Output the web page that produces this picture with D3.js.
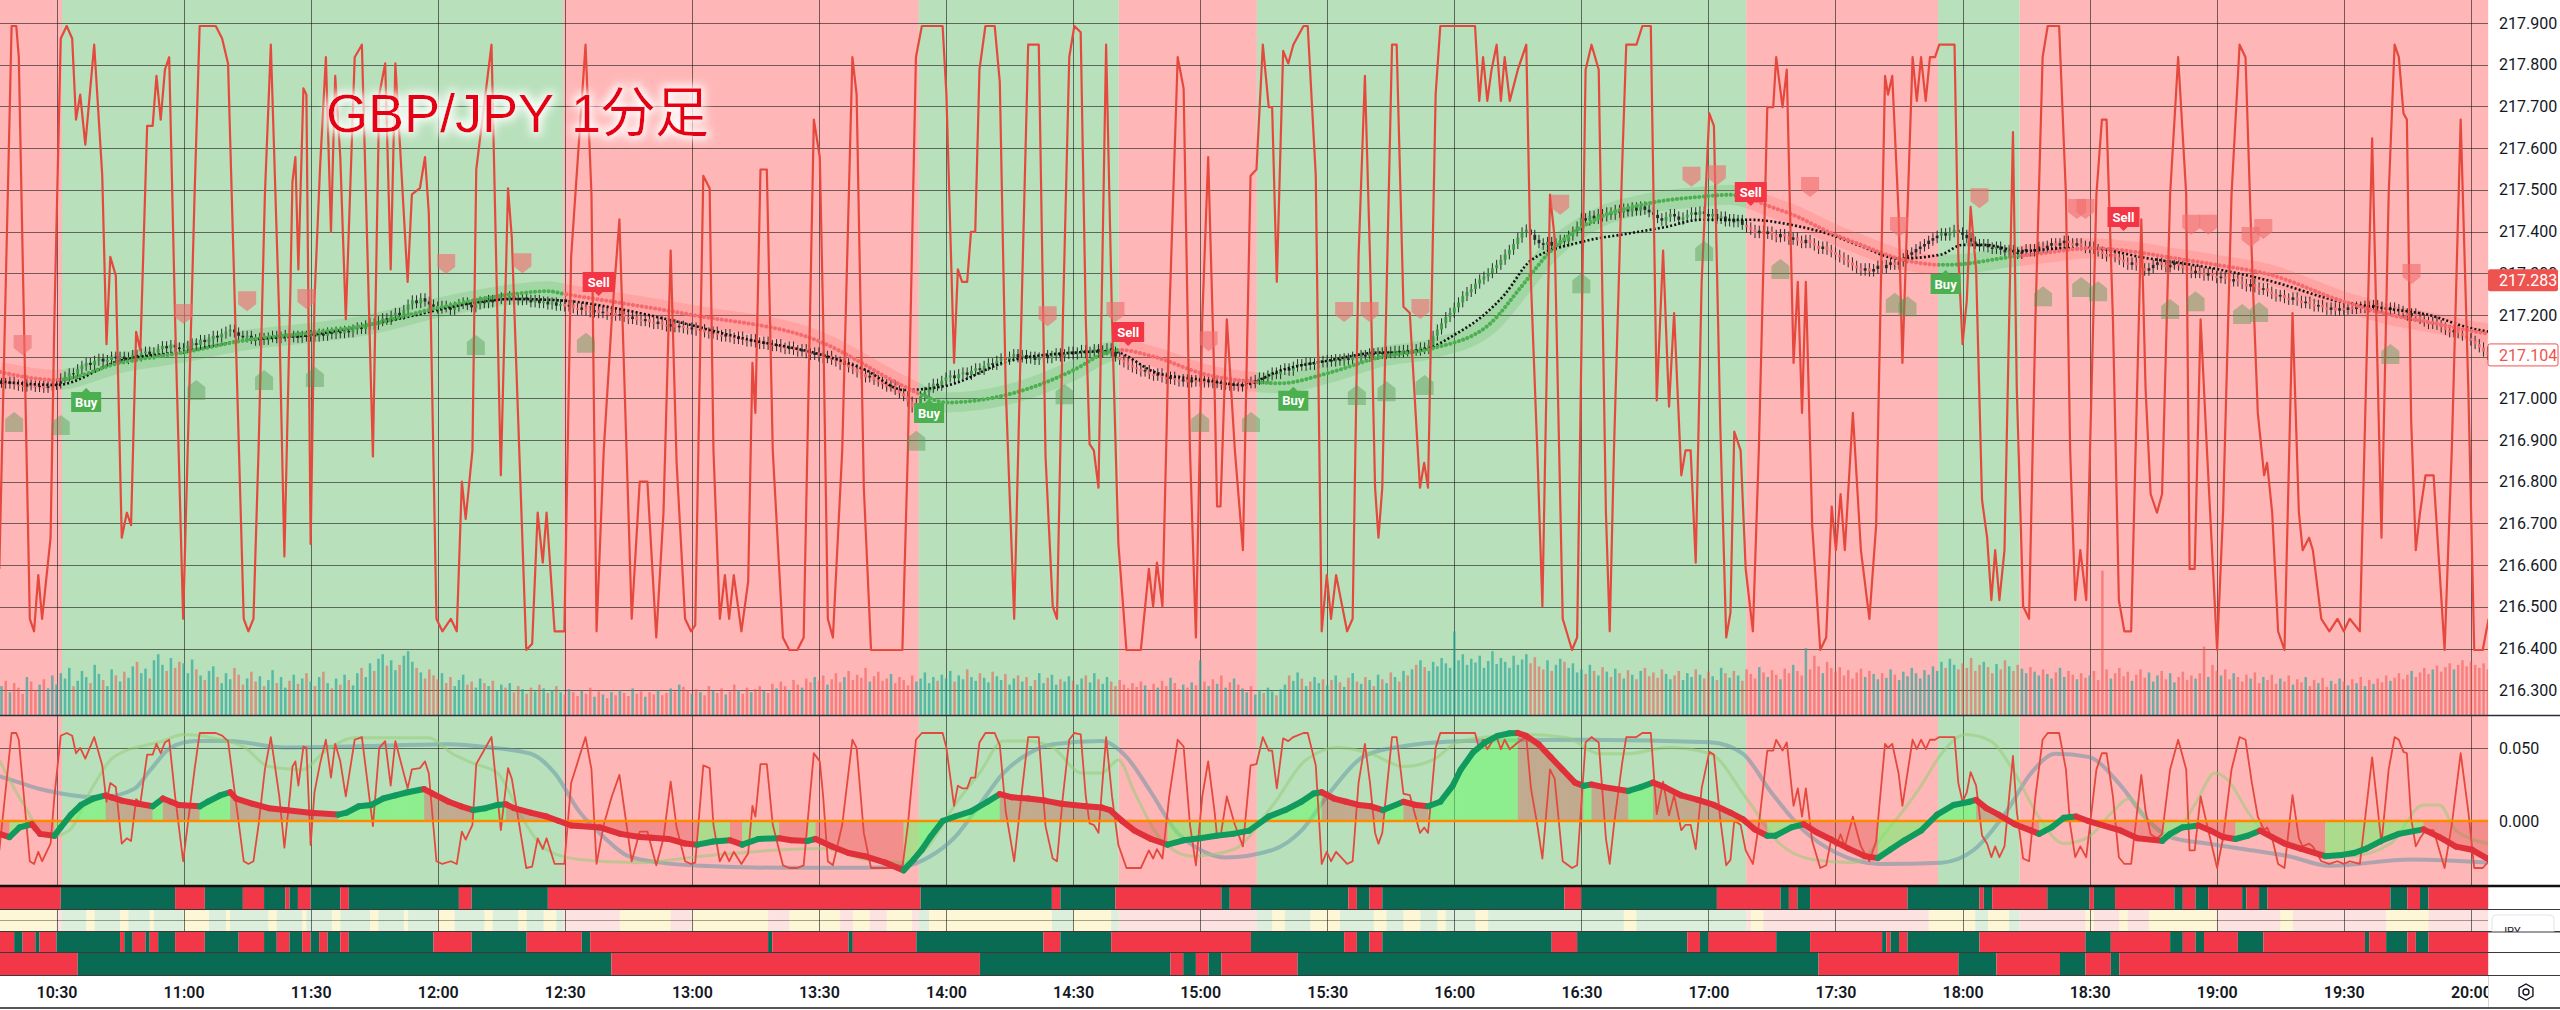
<!DOCTYPE html>
<html>
<head>
<meta charset="utf-8">
<script src="https://cdn.jsdelivr.net/npm/d3@7"></script>
<style>
  html, body { margin: 0; padding: 0; background: #fff; }
  svg { display: block; }
</style>
</head>
<body>
<div id="chart"></div>
<script>
// ---------- data (minutes counted from 10:00) ----------
const firstMinute = 17;
// 1-minute closes, thousandths of a yen above 217.000
const closes = [
  37,35,40,33,30,28,34,31,27,30,25,29,32,
  35,48,52,60,58,70,78,85,80,90,95,88,92,100,96,100,94,98,104,100,108,112,105,110,118,125,120,128,122,118,
  120,126,132,128,140,135,142,150,146,155,160,165,158,150,146,150,142,138,145,140,146,150,144,148,152,146,150,145,150,148,
  152,148,155,150,158,154,160,156,162,158,165,170,166,175,180,176,185,192,188,198,205,200,212,225,235,228,240,232,225,220,
  215,222,218,212,220,226,230,224,218,225,232,228,236,230,238,242,236,245,240,235,242,236,230,236,228,232,225,230,222,226,
  220,224,216,212,218,210,206,212,204,208,200,205,198,202,195,190,196,188,185,190,182,178,184,176,172,178,170,174,168,165,
  170,162,166,158,155,160,152,148,154,146,142,148,140,136,142,134,130,136,128,125,130,122,118,124,116,112,118,108,104,110,
  100,96,102,92,88,80,84,74,70,62,58,50,54,44,40,34,28,32,20,12,5,-8,-22,-12,5,15,25,35,30,42,
  50,55,48,58,62,56,66,72,68,78,84,80,90,96,92,100,106,98,104,95,100,92,98,104,96,102,108,100,106,112,
  105,110,116,108,112,118,110,115,120,112,100,92,86,80,74,70,64,68,58,54,60,50,46,52,44,40,46,38,44,40,
  46,38,42,36,40,32,38,30,34,28,34,40,36,44,50,46,55,62,58,68,72,66,76,82,78,86,80,84,90,86,
  92,88,94,90,96,92,100,96,104,100,108,104,110,106,112,108,114,110,116,112,118,114,122,118,128,150,165,180,195,205,
  218,230,245,255,262,275,285,292,300,312,320,332,345,356,370,385,398,405,392,380,372,368,375,366,372,380,376,390,400,412,
  432,426,438,430,442,436,446,440,452,445,455,448,458,450,460,452,446,440,432,426,435,442,436,428,434,440,446,440,448,442,
  436,442,430,436,424,430,422,428,416,410,404,396,402,394,400,392,386,394,388,380,386,378,372,380,372,366,358,364,356,350,
  344,338,332,326,318,312,306,312,304,310,318,312,320,326,320,328,336,344,350,358,364,370,378,384,390,396,390,398,404,398,
  392,384,376,370,364,370,362,358,364,356,350,356,350,346,352,358,352,358,364,360,366,372,366,372,378,372,366,372,366,360,
  364,358,352,346,340,346,338,332,326,320,326,318,312,306,312,320,326,320,314,320,326,318,312,306,300,306,300,294,300,294,
  288,292,286,280,286,280,274,268,274,266,260,264,256,250,244,248,240,236,242,234,228,232,226,220,224,218,212,218,210,216,
  212,218,214,220,216,222,218,224,220,216,212,218,214,210,204,198,204,196,190,184,178,184,176,170,164,158,164,156,150,144,138,130,122,112,104
];
const volumes = [
  38,45,30,42,36,28,50,44,33,40,47,35,52,
  40,55,48,62,38,45,58,50,42,66,54,46,38,60,52,44,57,49,64,70,55,61,48,72,80,66,58,75,62,70,
  68,55,73,60,52,46,58,64,50,42,55,47,62,53,40,48,57,44,51,38,46,59,42,50,36,45,53,41,48,55,
  44,38,50,57,42,35,48,40,53,46,39,55,62,50,68,58,74,80,65,72,59,66,78,84,70,62,56,48,60,52,
  47,55,42,50,38,46,53,40,44,36,48,42,38,45,33,40,36,42,30,38,34,28,36,31,40,35,29,33,38,30,
  27,34,30,25,32,28,36,24,31,27,22,30,26,33,29,25,35,28,31,24,30,27,33,26,29,35,31,40,37,32,
  28,34,30,26,38,32,29,35,27,31,40,33,28,36,30,34,38,32,29,41,35,44,38,33,46,40,36,48,43,50,
  45,52,40,47,55,43,50,58,46,53,49,62,44,51,57,45,48,54,42,50,46,39,52,44,48,56,42,50,45,53,
  48,58,44,52,47,60,50,45,55,49,43,57,51,46,54,40,48,52,44,50,38,46,55,42,49,53,40,47,44,51,
  45,40,48,52,43,55,47,41,50,44,38,46,40,35,42,37,44,39,33,41,36,45,38,49,42,34,40,36,43,39,
  72,44,38,47,41,52,36,43,48,40,35,30,38,27,33,29,36,31,26,34,40,52,45,56,48,38,44,50,42,47,
  39,46,52,43,37,49,55,44,41,50,46,38,53,47,42,56,50,44,58,52,60,66,72,63,58,70,64,75,68,62,
  110,72,80,66,74,69,78,62,71,84,67,75,70,62,78,66,73,80,68,76,64,60,72,58,66,74,70,62,68,56,
  60,54,66,58,52,63,57,50,61,55,48,59,53,47,58,62,51,56,49,60,54,47,52,58,46,55,50,60,53,48,
  57,51,46,62,55,49,58,52,45,60,54,48,63,56,50,59,53,47,61,55,66,58,52,88,60,78,64,55,70,62,
  57,63,52,59,48,56,61,50,58,54,47,55,49,60,53,46,57,51,62,55,48,59,53,64,58,70,62,74,66,60,
  68,62,75,58,66,70,63,55,67,60,72,64,58,66,61,55,63,57,52,60,54,48,56,62,50,58,53,47,55,49,
  52,58,46,190,60,48,55,62,51,57,45,53,60,49,56,44,52,58,47,55,43,50,57,46,52,48,55,90,50,66,
  58,52,60,47,55,50,44,53,48,56,42,50,46,53,41,48,44,52,40,47,43,50,38,46,42,49,37,45,41,48,
  44,39,47,42,50,38,46,41,48,43,52,45,49,55,47,53,58,50,56,62,54,60,65,57,63,68,60,66,72,64,70,66,62,68,60
];
// moving averages, [minute, thousandths above 217.000]
const fastMA = [[16.7,40],[30,32],[45,90],[60,112],[75,140],[90,152],[103,175],[115,200],[120,212],[138,238],[150,234],[163,214],[180,175],[192,144],[210,106],[221,68],[230,20],[240,30],[255,90],[271,110],[279,113],[290,60],[301,44],[310,32],[319,67],[330,90],[343,110],[347,109],[354,120],[360,152],[367,200],[372,250],[378,330],[390,375],[401,395],[410,411],[418,428],[430,428],[440,415],[449,392],[456,365],[465,335],[475,345],[480,368],[485,368],[494,353],[504,360],[510,360],[523,337],[540,310],[552,283],[570,230],[581,214],[590,200],[600,168],[604.1,160]];
const slowMA = [[16.7,63],[30,44],[45,85],[60,110],[75,140],[90,157],[103,175],[120,217],[138,250],[146,257],[150,250],[163,229],[180,200],[210,137],[230,29],[235,5],[240,-10],[255,10],[270,67],[278,110],[281,116],[289,100],[301,58],[312,40],[319,36],[330,60],[343,100],[355,120],[368,175],[376,270],[382,345],[394,432],[406,468],[418,483],[425,488],[430,478],[434,462],[440,440],[449,396],[456,368],[465,335],[475,320],[480,322],[490,337],[499,348],[510,360],[520,352],[530,336],[540,320],[552,298],[570,232],[581,200],[590,183],[600,162],[604.1,155]];
// stochastic oscillator vertices [minute, 0-100]
const stochPts = [[16.5,13],[19.4,100],[20.5,100],[21.1,95],[22.3,53],[23.7,5],[24.7,3],[25.7,12],[26.6,5],[28.6,18],[29.5,53],[31.0,98],[32.4,100],[33.7,98],[34.6,85],[35.6,89],[36.8,81],[38.9,97],[40.8,76],[41.8,49],[42.7,63],[44.0,60],[45.4,18],[46.6,22],[47.6,20],[48.8,51],[49.8,48],[51.4,84],[52.7,84],[53.6,92],[54.6,85],[55.6,93],[56.6,95],[58.0,53],[59.9,5],[62.6,73],[63.8,100],[67.6,100],[69.1,98],[70.5,94],[72.2,53],[74.2,5],[75.3,3],[76.5,5],[77.7,32],[79.2,73],[80.6,97],[82.6,53],[83.8,15],[85.2,57],[85.7,75],[86.4,79],[87.1,61],[88.3,90],[89.0,89],[90.0,17],[90.9,56],[92.2,77],[93.6,95],[94.8,67],[95.8,92],[97.0,79],[98.3,53],[100.4,95],[102.1,97],[104.7,31],[106.2,89],[107.6,94],[108.9,61],[110.0,94],[112.9,59],[113.9,73],[115.8,74],[117.0,79],[117.9,70],[119.7,5],[121.1,3],[123.1,5],[124.5,3],[125.7,27],[126.6,21],[128.2,32],[129.1,77],[132.7,97],[134.9,28],[136.6,74],[137.5,66],[140.9,0],[142.3,1],[143.6,22],[144.8,14],[145.7,22],[147.6,3],[149.9,3],[151.5,63],[154.9,97],[156.3,73],[157.5,3],[159.2,32],[161.1,53],[162.9,69],[165.8,5],[167.7,27],[169.5,27],[171.6,2],[173.3,22],[175.0,64],[176.4,30],[178.4,5],[179.8,3],[180.8,4],[182.7,76],[184.2,74],[185.1,32],[186.6,5],[187.8,12],[188.8,5],[189.9,12],[191.7,3],[193.3,11],[194.3,46],[195.0,38],[196.2,77],[197.7,77],[199.1,32],[201.5,2],[203.0,0],[204.9,0],[206.4,2],[208.8,85],[210.2,79],[211.0,53],[212.1,5],[213.3,2],[215.5,32],[217.9,95],[218.9,89],[220.6,26],[222.3,0],[229.7,0],[231.0,32],[232.9,95],[234.3,100],[239.2,100],[240.1,89],[241.9,46],[242.8,61],[243.8,59],[245.0,59],[245.9,67],[246.9,67],[247.9,93],[249.3,100],[251.5,100],[252.7,91],[254.1,42],[256.1,5],[258.0,59],[259.4,97],[261.9,97],[263.5,31],[265.2,7],[266.2,5],[267.6,53],[269.1,95],[270.3,100],[271.8,99],[273.0,53],[273.9,33],[274.9,32],[276.0,26],[277.8,97],[279.2,53],[280.7,17],[282.6,0],[286.0,0],[287.9,13],[288.9,7],[289.8,14],[291.1,7],[292.7,53],[294.7,95],[296.1,90],[297.6,32],[299.0,2],[300.5,53],[301.9,79],[303.4,42],[304.0,23],[304.8,23],[306.3,53],[308.2,32],[310.1,16],[311.9,76],[313.3,77],[314.8,97],[316.2,87],[317.0,87],[318.1,59],[319.6,96],[320.8,94],[322.0,97],[324.4,100],[325.4,100],[327.3,76],[328.7,3],[329.9,12],[330.9,5],[332.1,12],[334.7,3],[336.0,5],[337.4,63],[338.9,92],[340.1,63],[341.3,26],[342.1,18],[343.0,26],[344.2,63],[345.3,97],[346.4,97],[348.0,55],[349.5,54],[351.9,26],[352.9,30],[353.8,26],[355.6,89],[356.7,100],[364.9,100],[365.9,88],[366.8,95],[367.8,88],[368.8,93],[370.0,97],[371.0,88],[371.9,95],[373.1,88],[375.0,93],[377.0,97],[378.1,59],[379.6,32],[380.8,7],[382.6,73],[383.7,66],[385.6,5],[387.8,0],[389.0,2],[391.0,93],[392.4,97],[394.1,93],[395.8,22],[396.7,3],[397.7,32],[399.6,77],[400.6,97],[403.0,97],[404.4,100],[406.4,100],[407.8,40],[409.3,64],[410.7,39],[411.9,54],[413.6,28],[414.6,32],[415.8,32],[417.0,14],[418.4,59],[420.2,86],[421.3,84],[422.8,36],[424.2,2],[425.2,6],[426.1,35],[427.6,32],[428.8,13],[430.5,3],[431.9,32],[433.9,87],[435.3,87],[436.0,95],[437.5,87],[438.5,93],[440.1,46],[441.1,59],[442.1,38],[443.0,59],[444.5,20],[446.4,0],[447.8,2],[449.1,23],[450.1,16],[451.2,25],[452.2,16],[454.1,38],[456.0,16],[458.0,5],[459.6,20],[461.7,92],[462.4,89],[463.4,92],[464.9,70],[465.8,46],[468.2,95],[469.2,88],[470.2,95],[471.3,88],[472.3,95],[473.5,95],[474.5,97],[478.1,97],[479.0,63],[480.0,49],[481.0,56],[481.9,71],[483.2,61],[484.6,24],[485.8,18],[486.8,8],[487.7,16],[488.7,8],[489.9,16],[491.9,83],[492.8,42],[494.3,7],[495.7,5],[497.2,53],[498.9,95],[500.1,100],[502.8,100],[504.4,73],[505.4,32],[506.6,8],[507.8,16],[509.2,8],[511.6,73],[512.9,85],[514.0,85],[515.5,53],[516.9,8],[518.2,3],[519.8,3],[522.2,69],[523.2,42],[524.4,25],[525.9,22],[527.1,25],[529.0,73],[530.9,95],[532.8,73],[533.6,13],[534.8,13],[536.2,53],[537.7,32],[540.1,0],[541.5,22],[543.5,73],[545.4,97],[546.8,95],[548.3,63],[549.7,38],[551.2,28],[551.9,30],[553.1,22],[554.5,3],[556.0,0],[557.9,54],[559.4,22],[560.3,16],[561.8,18],[562.7,16],[564.7,5],[566.6,3],[568.5,5],[570.0,3],[571.4,5],[573.8,3],[575.3,44],[576.7,82],[578.9,18],[580.6,73],[582.0,97],[583.0,95],[584.1,86],[584.9,85],[585.9,37],[587.0,16],[588.0,22],[589.3,28],[591.2,28],[593.8,0],[595.5,32],[597.6,85],[599.4,42],[600.8,0],[602.8,0],[604.2,5]];
// lower panel momentum line [minute, value]
const momPts = [[16.5,-0.0088],[18.9,-0.011],[21.3,-0.0044],[24.2,-0.0022],[26.1,-0.0088],[29.5,-0.0101],[31.0,-0.0044],[33.4,0.0044],[35.8,0.011],[38.7,0.0154],[41.6,0.0175],[43.0,0.0162],[45.4,0.014],[49.3,0.0118],[52.7,0.0101],[55.1,0.0154],[57.0,0.0132],[58.9,0.011],[63.8,0.0101],[65.7,0.0132],[68.6,0.0175],[71.0,0.0197],[72.4,0.0154],[76.3,0.0118],[80.1,0.0088],[84.0,0.0075],[89.8,0.0057],[96.5,0.0044],[98.5,0.0057],[101.4,0.0101],[104.3,0.011],[107.1,0.0154],[110.0,0.0175],[112.9,0.0197],[116.8,0.0219],[118.7,0.0189],[122.6,0.0132],[125.5,0.0101],[128.4,0.0075],[131.3,0.0088],[134.1,0.011],[136.1,0.0115],[138.0,0.0088],[141.9,0.0057],[145.7,0.0031],[148.6,0],[151.5,-0.0031],[158.3,-0.0044],[163.1,-0.0088],[167.7,-0.011],[170.6,-0.0115],[174.5,-0.0123],[178.4,-0.0154],[181.3,-0.0162],[185.1,-0.014],[189.0,-0.0132],[191.9,-0.0162],[195.7,-0.0123],[200.6,-0.0118],[203.5,-0.0132],[207.3,-0.0136],[209.2,-0.0123],[213.1,-0.0175],[217.0,-0.0219],[220.8,-0.0241],[225.7,-0.0285],[230.0,-0.0338],[232.4,-0.0263],[234.3,-0.0197],[236.3,-0.011],[239.2,0],[242.1,0.0031],[245.9,0.0066],[249.8,0.0132],[252.7,0.0184],[255.6,0.0162],[259.4,0.0154],[263.3,0.014],[267.2,0.0118],[273.0,0.0101],[276.8,0.0092],[278.7,0.0075],[281.6,0],[284.5,-0.0066],[288.4,-0.0123],[292.3,-0.0162],[296.1,-0.0132],[300.0,-0.0118],[303.8,-0.0101],[307.7,-0.0088],[311.6,-0.0066],[316.2,0.0031],[320.1,0.0075],[323.9,0.0132],[326.8,0.0189],[328.7,0.0197],[331.6,0.0154],[334.5,0.0132],[337.4,0.011],[340.3,0.0101],[343.2,0.0075],[348.0,0.0132],[350.9,0.011],[353.8,0.0101],[356.7,0.0132],[359.6,0.0241],[361.5,0.0351],[364.4,0.0469],[367.3,0.0539],[370.2,0.0583],[373.1,0.0601],[375.0,0.0603],[377.0,0.0583],[379.9,0.0526],[382.7,0.0439],[385.6,0.0351],[388.5,0.0263],[390.5,0.0241],[392.4,0.025],[395.3,0.0232],[401.1,0.0206],[404.0,0.0232],[406.9,0.0263],[409.7,0.0232],[413.6,0.0175],[417.5,0.0145],[421.3,0.011],[425.2,0.0057],[428.1,0.0013],[430.9,-0.0057],[433.9,-0.0101],[435.8,-0.0101],[439.6,-0.0044],[442.5,-0.0022],[445.4,-0.0075],[449.3,-0.0132],[453.1,-0.0189],[457.0,-0.0241],[460.0,-0.0254],[462.9,-0.0197],[466.3,-0.0132],[470.2,-0.0066],[474.0,0.0044],[477.9,0.011],[481.7,0.0132],[483.2,0.0145],[485.6,0.0088],[488.5,0.0044],[492.3,-0.0022],[496.2,-0.0066],[498.1,-0.0088],[501.0,-0.0044],[503.9,0.0022],[506.8,0.0031],[509.7,0],[517.4,-0.0066],[521.3,-0.0118],[527.1,-0.0136],[529.0,-0.0088],[531.9,-0.0044],[535.7,-0.0031],[538.6,-0.0066],[541.5,-0.011],[544.4,-0.0123],[547.3,-0.0101],[550.2,-0.0066],[553.1,-0.011],[556.0,-0.0154],[559.8,-0.0189],[565.6,-0.0241],[569.5,-0.0232],[572.4,-0.0219],[575.3,-0.0189],[579.1,-0.0132],[583.0,-0.0088],[588.8,-0.0057],[592.6,-0.011],[596.5,-0.0175],[600.3,-0.0197],[604.2,-0.0263]];
const slowLine = [[16.5,0.0307],[21.3,0.0263],[26.1,0.0219],[31.0,0.0189],[40.6,0.0162],[48.3,0.0219],[52.2,0.0351],[57.0,0.0504],[62.8,0.0548],[70.5,0.0548],[84.0,0.0504],[103.3,0.0513],[122.6,0.0526],[132.2,0.0504],[141.9,0.0461],[147.6,0.0329],[153.4,0.0066],[159.2,-0.011],[165.0,-0.0241],[172.6,-0.0285],[182.2,-0.0307],[201.5,-0.032],[220.8,-0.032],[230.5,-0.0307],[236.3,-0.0241],[242.1,-0.011],[247.9,0.011],[253.6,0.0329],[259.4,0.0461],[265.2,0.0526],[276.8,0.0548],[282.6,0.0439],[288.4,0.0197],[294.2,-0.0066],[300.0,-0.0197],[305.8,-0.025],[317.2,-0.0197],[323.9,-0.0066],[330.7,0.0197],[338.4,0.0439],[346.1,0.0504],[362.5,0.0548],[391.4,0.0557],[420.4,0.0539],[428.1,0.0461],[434.8,0.0197],[442.5,-0.0066],[450.3,-0.0219],[460.5,-0.0294],[475.0,-0.0285],[482.7,-0.0197],[490.4,0.0066],[496.2,0.0329],[502.0,0.0461],[509.7,0.0439],[517.4,0.0241],[523.2,0.0022],[529.0,-0.011],[537.7,-0.0154],[547.3,-0.0197],[557.0,-0.0241],[566.6,-0.0307],[585.9,-0.0263],[604.2,-0.0285]];
const midLine = [[16.5,0.0417],[22.3,0.011],[28.1,-0.011],[32.9,-0.0066],[38.7,0.0241],[43.5,0.0439],[55.1,0.0548],[59.9,0.0592],[66.6,0.057],[74.4,0.0504],[80.1,0.0373],[87.9,0.0351],[93.6,0.0482],[100.4,0.057],[117.8,0.057],[123.5,0.0461],[128.4,0.0395],[134.1,0.0329],[139.9,0.0022],[145.7,-0.0197],[153.4,-0.0263],[167.7,-0.0285],[182.2,-0.0241],[201.5,-0.0197],[211.2,-0.0189],[220.8,-0.0263],[230.5,-0.0285],[236.3,-0.0154],[242.1,0.011],[247.9,0.0329],[253.6,0.0548],[259.4,0.0548],[265.2,0.0504],[272.0,0.0329],[276.8,0.0329],[280.7,0.0417],[284.5,0.0197],[290.3,-0.011],[298.1,-0.0241],[307.7,-0.0197],[317.2,0.011],[324.9,0.0417],[332.6,0.0504],[340.3,0.0461],[348.0,0.0373],[354.8,0.0417],[361.5,0.0548],[377.0,0.0592],[386.6,0.057],[394.3,0.0461],[401.1,0.0461],[410.7,0.0504],[420.4,0.0461],[429.0,0.0154],[436.8,-0.0154],[444.5,-0.0263],[454.1,-0.0285],[463.4,-0.0022],[470.2,0.0241],[475.0,0.0461],[480.8,0.0592],[486.6,0.0548],[492.3,0.0329],[498.1,0.0022],[503.9,-0.0154],[509.7,-0.011],[515.5,0.0066],[519.3,0.0154],[523.2,0.0022],[529.0,-0.011],[534.8,0.011],[539.6,0.0329],[542.5,0.0285],[547.3,0.0066],[552.1,-0.011],[561.8,-0.0197],[571.4,-0.0241],[581.1,-0.0154],[588.8,0.011],[592.6,0.011],[596.5,-0.0066],[604.2,-0.0154]];
// trend zones
const bandEdges = [16.66, 31.3, 149.6, 233.6, 280.8, 313.4, 428.9, 474.2, 493.5, 604.1];
const bandSide = ["sell","buy","sell","buy","sell","buy","sell","buy","sell"];
// signal strips: minutes at which the state flips (starting red)
const strip1Flips = [31,58,65,74,79,84,85,87,90,97,99,125,128,146,234,265,267,280,305,307,312,335,337,340,343,386,390,422,437,439,441,444,467,484,485,487,500,510,511,516,530,532,535,538,546,547,550,552,581,585,588,590];
const strip3Flips = [20,22,25,26,30,45,46,48,51,52,54,58,65,73,79,82,85,88,90,92,94,97,99,119,128,141,154,156,198,199,217,218,233,263,267,279,312,334,337,340,343,383,389,415,418,420,436,444,461,462,463,465,467,484,509,515,529,532,535,537,545,551,575,576,580,585,587,590];
const strip4Flips = [35,161,248,293,296,299,302,305,323,446,479,488,503,509,515,517];
const creamSpans = [[16.66,30],[37,39],[45,47],[52,53],[60,66],[70,71],[80,82],[88,89],[95,97],[104,106],[112,113],[120,124],[131,133],[139,141],[145,148],[163,175],[180,198],[203,215],[218,222],[226,232],[236,265],[270,279],[317,320],[326,333],[341,344],[348,352],[356,358],[365,368],[400,403],[430,433],[472,483],[486,491],[509,511],[517,519],[524,540],[555,558],[580,590]];
// markers [minute, price]
const sellMarks = [[22,217.128],[60,217.202],[75,217.233],[89,217.238],[122,217.322],[140,217.324],[264,217.197],[280,217.207],[302,217.137],[334,217.207],[340,217.207],[352,217.214],[385,217.464],[416,217.531],[422,217.535],[444,217.507],[465,217.411],[484,217.48],[507,217.454],[509,217.454],[534,217.416],[538,217.416],[548,217.387],[551,217.406],[586,217.298]];
const buyMarks = [[20,216.943],[31,216.936],[63,217.02],[79,217.044],[91,217.051],[129,217.128],[155,217.133],[233,216.898],[268,217.01],[300,216.943],[312,216.943],[337,217.008],[344,217.017],[353,217.032],[390,217.276],[419,217.353],[437,217.31],[464,217.229],[467,217.221],[499,217.245],[508,217.267],[512,217.257],[529,217.214],[535,217.233],[546,217.202],[550,217.207],[581,217.106]];
const signals = [[37,216.991,"Buy"],[158,217.279,"Sell"],[236,216.965,"Buy"],[283,217.159,"Sell"],[322,216.994,"Buy"],[430,217.495,"Sell"],[476,217.274,"Buy"],[518,217.435,"Sell"]];
const priceTicks = [216.3,216.4,216.5,216.6,216.7,216.8,216.9,217.0,217.1,217.2,217.3,217.4,217.5,217.6,217.7,217.8,217.9];
const lowTicks = [0, 0.05];
const priceTags = [217.283, 217.104];

// ---------- layout ----------
const width = 2560, height = 1010;
const plotR = 2488;
const mainBot = 715, lowTop = 716, lowBot = 886;
const stripRows = [[887, 909], [910, 931], [932, 952], [953, 975]];

const base = new Date(2024, 0, 1, 10, 0, 0).getTime();
const tm = m => new Date(base + m * 60000);
const x = d3.scaleTime().domain([tm(16.66), tm(604.05)]).range([0, plotR]);
const X = m => x(tm(m));
const y = d3.scaleLinear().domain([216.3, 217.9]).range([690.2, 23]);
const P = c => 217 + c / 1000;
const oscY = d3.scaleLinear().domain([0, 100]).range([650, 26]);
const volY = d3.scaleLinear().domain([0, 100]).range([mainBot, mainBot - 76]);
const lowY = d3.scaleLinear().domain([-0.0445, 0.0726]).range([lowBot, lowTop - 1]);
const lowOscY = d3.scaleLinear().domain([0, 100]).range([868, 733]);

const bgCol = { buy: "#b8e0bb", sell: "#ffb6b6" };
const stripCol = { buy: "#0a6b55", sell: "#f23848" };
const gridCol = "rgba(25,25,25,0.6)";
const oscCol = "#e5493e";

const bands = bandSide.map((s, i) => ({ s, a: bandEdges[i], b: bandEdges[i + 1] }));
const sideAt = m => { const b = bands.find(d => m < d.b); return b ? b.s : "sell"; };

const svg = d3.select("#chart").append("svg")
    .attr("width", width).attr("height", height)
    .style("font-family", "Roboto, 'Liberation Sans', sans-serif");
const defs = svg.append("defs");

defs.append("clipPath").attr("id", "clipMain").append("rect")
    .attr("x", 0).attr("y", 0).attr("width", plotR).attr("height", mainBot);
defs.append("clipPath").attr("id", "clipLow").append("rect")
    .attr("x", 0).attr("y", lowTop).attr("width", plotR).attr("height", lowBot - lowTop);
defs.append("clipPath").attr("id", "clipAxis").append("rect")
    .attr("x", 0).attr("y", 976).attr("width", plotR).attr("height", 32);
["buy", "sell"].forEach(side => {
    const cp = defs.append("clipPath").attr("id", "clip-" + side);
    bands.filter(b => b.s === side).forEach(b => {
        cp.append("rect").attr("x", X(b.a)).attr("y", 0)
            .attr("width", X(b.b) - X(b.a)).attr("height", mainBot);
    });
});
const glow = defs.append("filter").attr("id", "glow")
    .attr("x", "-10%").attr("y", "-40%").attr("width", "120%").attr("height", "180%");
glow.append("feMorphology").attr("in", "SourceAlpha").attr("operator", "dilate").attr("radius", 3).attr("result", "d");
glow.append("feGaussianBlur").attr("in", "d").attr("stdDeviation", 5).attr("result", "b");
glow.append("feFlood").attr("flood-color", "#ffffff").attr("flood-opacity", 0.95);
glow.append("feComposite").attr("in2", "b").attr("operator", "in").attr("result", "g");
const gm = glow.append("feMerge");
gm.append("feMergeNode").attr("in", "g");
gm.append("feMergeNode").attr("in", "SourceGraphic");

svg.append("rect").attr("width", width).attr("height", height).attr("fill", "#fff");

// zone backgrounds
[[0, mainBot], [lowTop, lowBot]].forEach(([t, b]) => {
    svg.append("g").selectAll("rect").data(bands).enter().append("rect")
        .attr("x", d => X(d.a)).attr("y", t)
        .attr("width", d => X(d.b) - X(d.a)).attr("height", b - t)
        .attr("fill", d => bgCol[d.s]);
});

// strip 2 (pale)
svg.append("g").selectAll("rect").data(bands).enter().append("rect")
    .attr("x", d => X(d.a)).attr("y", stripRows[1][0])
    .attr("width", d => X(d.b) - X(d.a)).attr("height", stripRows[1][1] - stripRows[1][0])
    .attr("fill", d => d.s === "buy" ? "#dcefdd" : "#fde2e2");
svg.append("g").selectAll("rect").data(creamSpans).enter().append("rect")
    .attr("x", d => X(d[0])).attr("y", stripRows[1][0])
    .attr("width", d => X(d[1]) - X(d[0])).attr("height", stripRows[1][1] - stripRows[1][0])
    .attr("fill", "#fdf7d5");

// grid
const timeTicks = x.ticks(d3.timeMinute.every(30));
const grid = svg.append("g").attr("stroke", gridCol).attr("stroke-width", 1);
grid.selectAll(".h").data(priceTicks).enter().append("line")
    .attr("x1", 0).attr("x2", plotR)
    .attr("y1", d => Math.round(y(d)) + 0.5).attr("y2", d => Math.round(y(d)) + 0.5);
grid.selectAll(".hl").data(lowTicks.slice(1)).enter().append("line")
    .attr("x1", 0).attr("x2", plotR)
    .attr("y1", d => Math.round(lowY(d)) + 0.5).attr("y2", d => Math.round(lowY(d)) + 0.5);
grid.selectAll(".v").data(timeTicks).enter().append("line")
    .attr("x1", d => Math.round(x(d)) + 0.5).attr("x2", d => Math.round(x(d)) + 0.5)
    .attr("y1", 0).attr("y2", 975);
grid.append("line").attr("x1", 0).attr("x2", plotR).attr("y1", 920.5).attr("y2", 920.5)
    .attr("stroke", "rgba(0,0,0,0.35)");

// candles + volume
const candles = closes.map((c, i) => ({ m: firstMinute + i, o: i ? closes[i - 1] : c, c }));
const main = svg.append("g").attr("clip-path", "url(#clipMain)");
main.append("g").selectAll("rect").data(candles).enter().append("rect")
    .attr("x", d => X(d.m) - 1.2).attr("width", 2.5)
    .attr("y", (d, i) => volY(volumes[i])).attr("height", (d, i) => mainBot - volY(volumes[i]))
    .attr("fill", d => d.c >= d.o ? "rgba(38,166,154,0.66)" : "rgba(239,83,80,0.55)");

// trend cloud (wide soft band along slow MA)
const maLine = d3.line().x(d => X(d[0])).y(d => y(P(d[1]))).curve(d3.curveMonotoneX);
[["buy", "rgba(76,175,80,0.2)"], ["sell", "rgba(255,90,90,0.2)"]].forEach(([s, c]) => {
    main.append("path").datum(slowMA).attr("d", maLine).attr("fill", "none")
        .attr("stroke", c).attr("stroke-width", 20).attr("clip-path", "url(#clip-" + s + ")");
});

const cg = main.append("g");
cg.selectAll("line").data(candles).enter().append("line")
    .attr("x1", d => X(d.m)).attr("x2", d => X(d.m))
    .attr("y1", d => y(P(Math.max(d.o, d.c))) - 5).attr("y2", d => y(P(Math.min(d.o, d.c))) + 5)
    .attr("stroke", "#2a2a2a").attr("stroke-width", 1);
cg.selectAll("rect").data(candles).enter().append("rect")
    .attr("x", d => X(d.m) - 1.4).attr("width", 2.8)
    .attr("y", d => y(P(Math.max(d.o, d.c))))
    .attr("height", d => Math.max(1.2, Math.abs(y(P(d.o)) - y(P(d.c)))))
    .attr("fill", d => {
        const s = sideAt(d.m), up = d.c >= d.o;
        if (s === "buy") return up ? "#3f9c47" : "#2a2a2a";
        return up ? "#2a2a2a" : "#ee6a6a";
    });

// fast MA (black dots) and slow MA (coloured dots)
main.append("path").datum(fastMA).attr("d", maLine).attr("fill", "none")
    .attr("stroke", "#111").attr("stroke-width", 2.6).attr("stroke-dasharray", "2 2.2");
[["buy", "#4caf50"], ["sell", "#f46a6e"]].forEach(([s, c]) => {
    main.append("path").datum(slowMA).attr("d", maLine).attr("fill", "none")
        .attr("stroke", c).attr("stroke-width", 4).attr("stroke-linecap", "round")
        .attr("stroke-dasharray", "0.1 4.4").attr("clip-path", "url(#clip-" + s + ")");
});

// stochastic on the price pane
main.append("path").datum(stochPts)
    .attr("d", d3.line().x(d => X(d[0])).y(d => oscY(d[1])))
    .attr("fill", "none").attr("stroke", oscCol).attr("stroke-width", 2.2)
    .attr("stroke-linejoin", "round");

// shield markers
main.append("g").selectAll("path").data(sellMarks).enter().append("path")
    .attr("transform", d => `translate(${X(d[0])},${y(d[1])})`)
    .attr("d", "M-9,-10 H9 V3 L0,10 L-9,3 Z")
    .attr("fill", "rgba(240,110,110,0.62)");
main.append("g").selectAll("path").data(buyMarks).enter().append("path")
    .attr("transform", d => `translate(${X(d[0])},${y(d[1])})`)
    .attr("d", "M-9,10 H9 V-3 L0,-10 L-9,-3 Z")
    .attr("fill", "rgba(80,150,80,0.42)");

// Buy / Sell labels
const sig = main.append("g").selectAll("g").data(signals).enter().append("g")
    .attr("transform", d => `translate(${X(d[0])},${y(d[1])})`);
sig.append("path")
    .attr("d", d => d[2] === "Buy"
        ? "M-15,-10 H-4 L0,-14 L4,-10 H15 V10 H-15 Z"
        : "M-16,-10 H16 V10 H4 L0,14 L-4,10 H-16 Z")
    .attr("fill", d => d[2] === "Buy" ? "#4caf50" : "#f23645");
sig.append("text").text(d => d[2])
    .attr("text-anchor", "middle").attr("dy", "0.36em")
    .attr("fill", "#fff").attr("font-size", 13).attr("font-weight", 700);

// ---------- lower pane ----------
const low = svg.append("g").attr("clip-path", "url(#clipLow)");
const lowLine = d3.line().x(d => X(d[0])).y(d => lowY(d[1])).curve(d3.curveMonotoneX);
low.append("path").datum(slowLine).attr("d", lowLine).attr("fill", "none")
    .attr("stroke", "rgba(95,145,165,0.5)").attr("stroke-width", 4);
low.append("path").datum(midLine).attr("d", lowLine).attr("fill", "none")
    .attr("stroke", "rgba(150,205,120,0.55)").attr("stroke-width", 3);

const segs = d3.pairs(momPts);
low.append("g").selectAll("path").data(segs).enter().append("path")
    .attr("d", ([a, b]) => `M${X(a[0])},${lowY(a[1])}L${X(b[0])},${lowY(b[1])}L${X(b[0])},${lowY(0)}L${X(a[0])},${lowY(0)}Z`)
    .attr("fill", ([a, b]) => b[1] >= a[1] ? "rgba(105,250,105,0.55)" : "rgba(215,60,55,0.33)");

low.append("path").datum(stochPts)
    .attr("d", d3.line().x(d => X(d[0])).y(d => lowOscY(d[1])))
    .attr("fill", "none").attr("stroke", oscCol).attr("stroke-width", 1.8)
    .attr("stroke-linejoin", "round");

low.append("line").attr("x1", 0).attr("x2", plotR)
    .attr("y1", lowY(0)).attr("y2", lowY(0))
    .attr("stroke", "#ff8a00").attr("stroke-width", 2.6);

low.append("g").selectAll("line").data(segs).enter().append("line")
    .attr("x1", ([a]) => X(a[0])).attr("y1", ([a]) => lowY(a[1]))
    .attr("x2", ([, b]) => X(b[0])).attr("y2", ([, b]) => lowY(b[1]))
    .attr("stroke", ([a, b]) => b[1] >= a[1] ? "#109a5e" : "#e0303a")
    .attr("stroke-width", 6).attr("stroke-linecap", "round");

// ---------- signal strips ----------
const flipSpans = flips => {
    const e = [16.66, ...flips, 604.1];
    return e.slice(0, -1).map((a, i) => ({ a, b: e[i + 1], s: i % 2 === 0 ? "sell" : "buy" }));
};
[[strip1Flips, stripRows[0]], [strip3Flips, stripRows[2]], [strip4Flips, stripRows[3]]].forEach(([f, r]) => {
    svg.append("g").selectAll("rect").data(flipSpans(f)).enter().append("rect")
        .attr("x", d => X(d.a)).attr("y", r[0])
        .attr("width", d => X(d.b) - X(d.a)).attr("height", r[1] - r[0])
        .attr("fill", d => stripCol[d.s]);
});

// separators
svg.append("line").attr("x1", 0).attr("x2", width).attr("y1", 715.5).attr("y2", 715.5)
    .attr("stroke", "#2a2e39").attr("stroke-width", 1.5);
svg.append("line").attr("x1", 0).attr("x2", width).attr("y1", 886).attr("y2", 886)
    .attr("stroke", "#111").attr("stroke-width", 2.5);
[909.5, 931.5, 952.5, 975.5].forEach(v => {
    svg.append("line").attr("x1", 0).attr("x2", width).attr("y1", v).attr("y2", v)
        .attr("stroke", "#3a3a3a").attr("stroke-width", 1);
});
svg.append("line").attr("x1", 0).attr("x2", width).attr("y1", 1008).attr("y2", 1008)
    .attr("stroke", "#555").attr("stroke-width", 2);
svg.append("line").attr("x1", plotR + 0.5).attr("x2", plotR + 0.5).attr("y1", 976).attr("y2", 1007)
    .attr("stroke", "#d6d6d6");

// ---------- axes ----------
const axisFont = g => g.attr("font-size", 16).attr("font-family", "Roboto, 'Liberation Sans', sans-serif");
svg.append("g").attr("clip-path", "url(#clipAxis)")
    .append("g").attr("transform", "translate(0,992)")
    .call(d3.axisBottom(x).tickValues(timeTicks).tickFormat(d3.timeFormat("%H:%M")).tickSize(0).tickPadding(0))
    .call(axisFont)
    .call(g => g.select(".domain").remove())
    .selectAll("text").attr("dy", "0.36em").attr("fill", "#131722").attr("font-weight", 600);

svg.append("g").attr("transform", `translate(${plotR},0)`)
    .call(d3.axisRight(y).tickValues(priceTicks).tickFormat(d3.format(".3f")).tickSize(0).tickPadding(11))
    .call(axisFont)
    .call(g => g.select(".domain").remove())
    .selectAll("text").attr("fill", "#131722");

svg.append("g").attr("transform", `translate(${plotR},0)`)
    .call(d3.axisRight(lowY).tickValues(lowTicks).tickFormat(d3.format(".3f")).tickSize(0).tickPadding(11))
    .call(axisFont)
    .call(g => g.select(".domain").remove())
    .selectAll("text").attr("fill", "#131722");

// price tags on the scale
const tag = svg.append("g").selectAll("g").data(priceTags).enter().append("g")
    .attr("transform", d => `translate(${plotR},${y(d)})`);
tag.append("rect").attr("x", 0).attr("y", -11).attr("width", 70).attr("height", 22).attr("rx", 2)
    .attr("fill", (d, i) => i === 0 ? "#ef5350" : "#fff")
    .attr("stroke", (d, i) => i === 0 ? "none" : "#ef5350");
tag.append("text").text(d => d3.format(".3f")(d))
    .attr("x", 11).attr("dy", "0.36em").attr("font-size", 16)
    .attr("fill", (d, i) => i === 0 ? "#fff" : "#ef5350");

// small pane label and settings icon
const jpy = svg.append("g").attr("transform", "translate(2492,915)");
jpy.append("rect").attr("width", 62).attr("height", 24).attr("rx", 4)
    .attr("fill", "#fff").attr("stroke", "#e0e3eb");
jpy.append("text").text("JPY").attr("x", 9).attr("y", 20).attr("font-size", 11).attr("fill", "#131722");
svg.append("rect").attr("x", plotR + 1).attr("y", 932).attr("width", 71).attr("height", 20).attr("fill", "#fff");
svg.append("line").attr("x1", plotR).attr("x2", width).attr("y1", 932).attr("y2", 932).attr("stroke", "#3a3a3a");
svg.append("line").attr("x1", plotR).attr("x2", width).attr("y1", 952.5).attr("y2", 952.5).attr("stroke", "#3a3a3a");
const gear = svg.append("g").attr("transform", "translate(2526,992)")
    .attr("fill", "none").attr("stroke", "#131722").attr("stroke-width", 1.4);
gear.append("path").attr("d", d3.range(6).map((i) => {
    const a = Math.PI / 3 * i + Math.PI / 6;
    return (i ? "L" : "M") + (8 * Math.cos(a)).toFixed(2) + "," + (8 * Math.sin(a)).toFixed(2);
}).join("") + "Z");
gear.append("circle").attr("r", 3);

// title
const title = svg.append("text").attr("x", 326).attr("y", 132)
    .attr("font-size", 54).attr("fill", "#e60012").attr("filter", "url(#glow)")
    .style("font-family", "'Liberation Sans', 'Noto Sans CJK JP', sans-serif");
title.append("tspan").text("GBP/JPY");
title.append("tspan").attr("x", 571).text("1分足")
    .style("font-family", "'Liberation Sans', 'Noto Sans CJK JP', sans-serif");
</script>
</body>
</html>
